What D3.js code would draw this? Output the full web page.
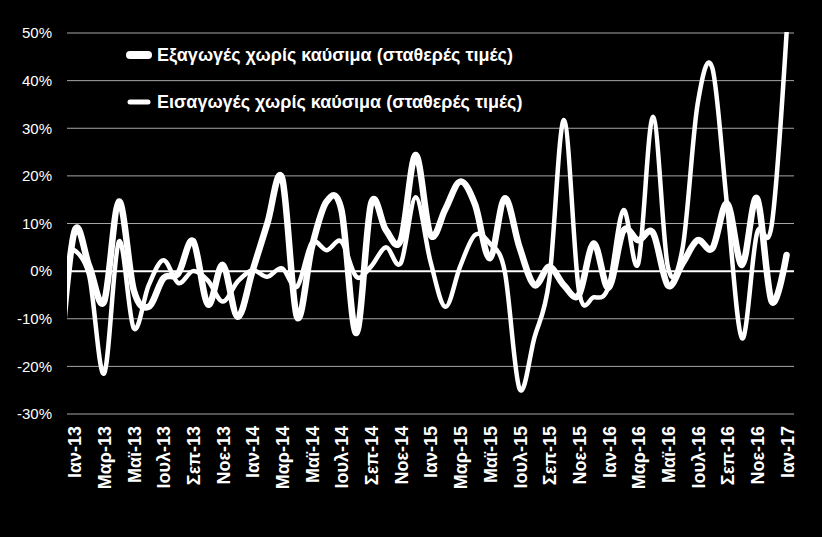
<!DOCTYPE html>
<html>
<head>
<meta charset="utf-8">
<script src="https://cdn.jsdelivr.net/npm/d3@7"></script>
<style>
  html, body { margin: 0; padding: 0; background: #000; }
  svg { display: block; }
</style>
</head>
<body>
<script>
var months = ['Ιαν-13','Φεβ-13','Μαρ-13','Απρ-13','Μαϊ-13','Ιουν-13','Ιουλ-13','Αυγ-13','Σεπ-13','Οκτ-13','Νοε-13','Δεκ-13',
              'Ιαν-14','Φεβ-14','Μαρ-14','Απρ-14','Μαϊ-14','Ιουν-14','Ιουλ-14','Αυγ-14','Σεπ-14','Οκτ-14','Νοε-14','Δεκ-14',
              'Ιαν-15','Φεβ-15','Μαρ-15','Απρ-15','Μαϊ-15','Ιουν-15','Ιουλ-15','Αυγ-15','Σεπ-15','Οκτ-15','Νοε-15','Δεκ-15',
              'Ιαν-16','Φεβ-16','Μαρ-16','Απρ-16','Μαϊ-16','Ιουν-16','Ιουλ-16','Αυγ-16','Σεπ-16','Οκτ-16','Νοε-16','Δεκ-16',
              'Ιαν-17'];

// exports excl. fuel, y/y % (value for Δεκ-12 sits just off the left edge)
var exportsDec12 = -20;
var exportsVals = [8.3, 1, -6.4, 14.6, -4, -7.5, -1.5, -0.5, 6.3, -7, 1.3, -9.6,
                   0, 10, 19.5, -9.6, 5, 14.6, 12.8, -13, 14.2, 8.6, 6.5, 24.4,
                   7.6, 13, 18.8, 14, 2.7, 15.3, 5, -2.9, 0.9, -3, -5, 5.8,
                   -3.5, 8.5, 6.5, 8, -3, 1.7, 6.5, 4.8, 14.2, 1.3, 15.3, -6.4,
                   3.4];

// imports excl. fuel, y/y %
var importsVals = [4.4, -1, -21.5, 6.2, -12, -3, 2.3, -2.5, 0, -2, -6.4, -2.2,
                   0.2, -1.2, 0.6, -3.3, 5.9, 4.4, 6.2, -1.2, 1, 5, 1.7, 15.5,
                   2, -7.5, 1, 7.6, 5.8, 0, -24.7, -14, -2, 31.7, -4, -5.5,
                   -3.3, 12.8, 1.6, 32.4, 0.9, 5, 35, 42.6, 13.5, -14.1, 7.9, 9.7,
                   50];

var yTicks = [-30, -20, -10, 0, 10, 20, 30, 40, 50];
var legendLabels = ['Εξαγωγές χωρίς καύσιμα (σταθερές τιμές)', 'Εισαγωγές χωρίς καύσιμα (σταθερές τιμές)'];

var width = 822, height = 537;
var plotLeft = 67, plotRight = 794, plotTop = 33, plotBottom = 414;

var svg = d3.select('body').append('svg').attr('width', width).attr('height', height);
svg.append('rect').attr('width', width).attr('height', height).attr('fill', '#000');

var x = d3.scalePoint().domain(months).range([plotLeft, plotRight]).padding(0.5);
var y = d3.scaleLinear().domain([-30, 50]).range([plotBottom, plotTop]);

// gridlines
svg.append('g').selectAll('line')
    .data(yTicks)
    .enter()
    .append('line')
        .attr('x1', plotLeft).attr('x2', plotRight)
        .attr('y1', d => y(d)).attr('y2', d => y(d))
        .attr('stroke', d => d === 0 ? '#fff' : '#a6a6a6')
        .attr('stroke-width', d => d === 0 ? 2 : 1);

// y axis labels
var yAxis = svg.append('g').attr('transform', 'translate(' + plotLeft + ',0)')
    .call(d3.axisLeft(y).tickValues(yTicks).tickSize(0).tickPadding(15).tickFormat(d => d + '%'));
yAxis.select('.domain').remove();
yAxis.selectAll('text')
    .attr('fill', '#fff')
    .attr('font-family', 'Liberation Sans, Arial, sans-serif')
    .attr('font-size', 15);

// x axis labels, every second month
var xAxis = svg.append('g').attr('transform', 'translate(0,' + plotBottom + ')')
    .call(d3.axisBottom(x).tickValues(months.filter((d, i) => i % 2 === 0)).tickSize(0));
xAxis.select('.domain').remove();
xAxis.selectAll('text')
    .attr('fill', '#fff')
    .attr('font-family', 'Liberation Sans, Arial, sans-serif')
    .attr('font-weight', 'bold')
    .attr('font-size', 18)
    .attr('text-anchor', 'end')
    .attr('transform', 'rotate(-90)')
    .attr('x', -12)
    .attr('y', 0)
    .attr('dy', '0.36em');

// lines
svg.append('clipPath').attr('id', 'plot')
    .append('rect').attr('x', plotLeft).attr('y', plotTop - 1).attr('width', plotRight - plotLeft).attr('height', plotBottom - plotTop + 1);

var line = d3.line()
    .x(d => d.x)
    .y(d => y(d.v))
    .curve(d3.curveCardinal.tension(0));

var exportsPts = [{x: x(months[0]) - x.step(), v: exportsDec12}]
    .concat(exportsVals.map((v, i) => ({x: x(months[i]), v: v})));
var importsPts = importsVals.map((v, i) => ({x: x(months[i]), v: v}));

var chartGroup = svg.append('g').attr('clip-path', 'url(#plot)');

chartGroup.append('path')
    .attr('fill', 'none')
    .attr('stroke', '#fff')
    .attr('stroke-width', 4.5)
    .attr('stroke-linejoin', 'round')
    .attr('stroke-linecap', 'round')
    .attr('d', line(importsPts));

chartGroup.append('path')
    .attr('fill', 'none')
    .attr('stroke', '#fff')
    .attr('stroke-width', 6.5)
    .attr('stroke-linejoin', 'round')
    .attr('stroke-linecap', 'round')
    .attr('d', line(exportsPts));

// legend
var legend = svg.append('g');
var legendWidths = [8, 5];
legendLabels.forEach(function(label, i) {
    var ly = 55 + i * 47;
    legend.append('line')
        .attr('x1', 130).attr('x2', 148)
        .attr('y1', ly).attr('y2', ly)
        .attr('stroke', '#fff')
        .attr('stroke-width', legendWidths[i])
        .attr('stroke-linecap', 'round');
    legend.append('text')
        .attr('x', 157).attr('y', ly)
        .attr('dy', '0.35em')
        .attr('fill', '#fff')
        .attr('font-family', 'Liberation Sans, Arial, sans-serif')
        .attr('font-weight', 'bold')
        .attr('font-size', 18)
        .text(label);
});
</script>
</body>
</html>
